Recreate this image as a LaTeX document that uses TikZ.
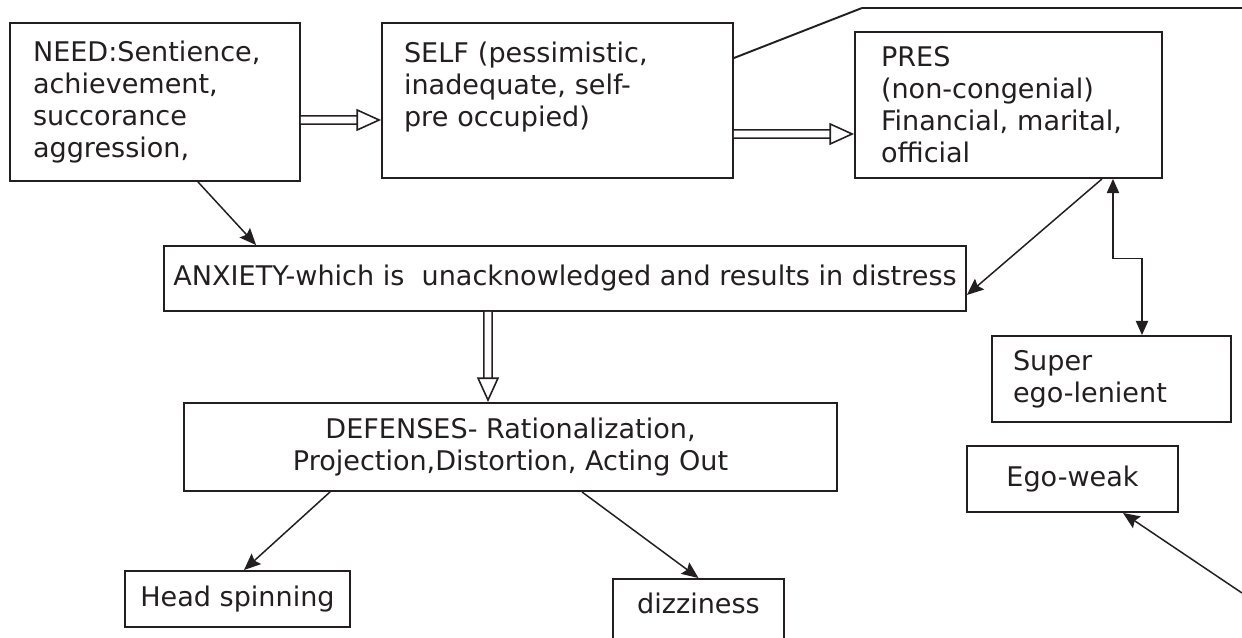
\documentclass[tikz,border=0pt]{standalone}
\usepackage{fontspec}
\setmainfont{DejaVu Sans}
\usepackage{xcolor}
\usetikzlibrary{arrows.meta}
\definecolor{ink}{HTML}{231F20}

\begin{document}
\begin{tikzpicture}[x=0.02cm,y=-0.02cm]
\tikzset{box/.style={draw=ink,line width=1.1pt,text=ink,inner ysep=0pt}}
\tikzset{leftbox/.style={box,align=left}}
\tikzset{midbox/.style={box,align=center}}
\tikzset{thin arrow/.style={draw=ink,line width=0.85pt,-{Stealth[length=9.5pt,width=8pt,inset=1.5pt]}}}
\tikzset{hollow arrow/.style={draw=ink,line width=0.9pt,double=white,double distance=3.8pt,-{Triangle[open,length=14pt,width=12.5pt]}}}

\fontsize{15.4}{18.2}\selectfont

\useasboundingbox (0,0) rectangle (1242,638);

\node[leftbox,minimum width=5.8cm,minimum height=3.16cm,inner xsep=0.46cm,text width=4.88cm] (need) at (155,102) {NEED:Sentience,\\achievement,\\succorance\\aggression,};
\node[leftbox,minimum width=7.02cm,minimum height=3.1cm,inner xsep=0.44cm,text width=6.14cm] (self) at (557.5,100.5) {SELF (pessimistic,\\inadequate, self-\\pre occupied)\\~};
\node[leftbox,minimum width=6.14cm,minimum height=2.92cm,inner xsep=0.52cm,text width=5.1cm] (pres) at (1008.5,105) {PRES\\(non-congenial)\\Financial, marital,\\official};
\node[midbox,minimum width=16.04cm,minimum height=1.3cm] (anx) at (565,278.5) {ANXIETY-which is\ \ unacknowledged and results in distress};
\node[midbox,minimum width=13.06cm,minimum height=1.76cm] (def) at (510.5,447) {DEFENSES- Rationalization,\\Projection,Distortion, Acting Out};
\node[midbox,minimum width=4.5cm,minimum height=1.12cm] (head) at (237.5,599) {Head spinning};
\node[midbox,minimum width=3.42cm,minimum height=1.6cm] (dizzy) at (698.5,619) {dizziness\\~};
\node[leftbox,minimum width=4.78cm,minimum height=1.72cm,inner xsep=0.42cm,text width=3.94cm] (super) at (1111.5,379) {Super\\ego-lenient};
\node[midbox,minimum width=4.22cm,minimum height=1.32cm] (ego) at (1072.5,479) {Ego-weak};

\coordinate (bend) at (862,8);
\coordinate (offtop) at (1242,8);
\coordinate (offright) at (1242,593);

\draw[hollow arrow] ([yshift=-0.36cm]need.east) -- ([yshift=-0.39cm]self.west);
\draw[hollow arrow] ([yshift=-0.67cm]self.east) -- ([yshift=-0.58cm]pres.west);
\draw[hollow arrow] ([xshift=-1.54cm]anx.south) -- ([xshift=-0.45cm]def.north);

\draw[thin arrow] ([xshift=0.86cm]need.south) -- ([xshift=1.86cm]anx.north west);
\draw[thin arrow] ([xshift=1.87cm]pres.south) -- ([yshift=-0.33cm]anx.east);
\draw[thin arrow] ([xshift=-3.61cm]def.south) -- ([xshift=0.13cm]head.north);
\draw[thin arrow] ([xshift=1.43cm]def.south) -- (dizzy.north);
\draw[thin arrow] (offright) -- ([xshift=1.01cm]ego.south);
\draw[draw=ink,line width=0.6pt,{Triangle[length=8pt,width=7pt]}-{Triangle[length=8pt,width=7pt]}] ([xshift=2.09cm]pres.south) -- ++(0,80) -| ([xshift=0.61cm]super.north);

\draw[draw=ink,line width=1.1pt] ([yshift=0.85cm]self.east) -- (bend);
\draw[draw=ink,line width=0.8pt] (bend) -- (offtop);

\end{tikzpicture}
\end{document}
